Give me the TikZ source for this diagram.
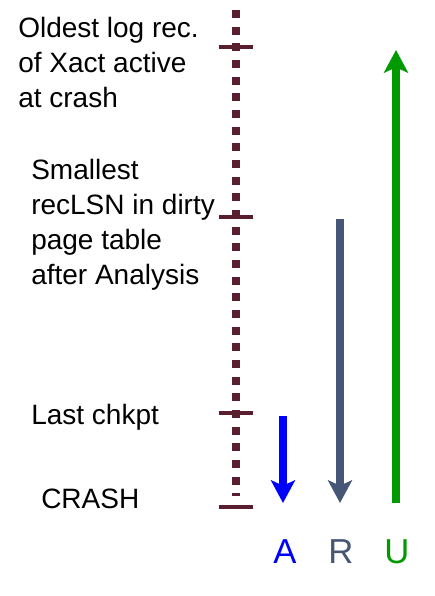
\documentclass[tikz,border=0pt]{standalone}
\usepackage{fontspec}
\setmainfont{Liberation Sans}
\usetikzlibrary{arrows.meta}
\definecolor{logline}{HTML}{5A1F2E}
\definecolor{anablue}{HTML}{0000FF}
\definecolor{redogray}{HTML}{475677}
\definecolor{undogreen}{HTML}{009900}

\begin{document}
\begin{tikzpicture}[x=0.75pt,y=-0.75pt,
    lbl/.style={anchor=base west,align=left,inner sep=0pt,font=\fontsize{21}{26.25}\selectfont},
    letter/.style={anchor=base,inner sep=0pt,font=\fontsize{26}{30}\selectfont},
    tickmark/.style={logline,line width=2.4pt},
    phase/.style={line width=6pt,-{Stealth[length=17pt,width=18pt,inset=4pt]}}]
  \useasboundingbox (0,0) rectangle (435,596);
  % the log, oldest record at the top
  \coordinate (logtop) at (236,10);
  \coordinate (logend) at (236,496);
  \draw[logline,line width=5.5pt,dash pattern=on 6pt off 6.5pt] (logtop) -- (logend);
  \foreach \y/\n in {47/oldest,217/minrec,413/chkpt,507/crash}{
    \coordinate (\n-l) at (219,\y);
    \coordinate (\n-r) at (253,\y);
    \draw[tickmark] (\n-l) -- (\n-r);
  }
  % base = last line of each label
  \node[lbl] (oldtxt) at (18,107) {Oldest log rec.\\of Xact active\\at crash};
  \node[lbl] (mintxt) at (31,284) {Smallest\\recLSN in dirty\\page table\\after Analysis};
  \node[lbl] (chktxt) at (31,424) {Last chkpt};
  \node[lbl] (crashtxt) at (41,508) {CRASH};
  % the three passes
  \coordinate (a-s) at (283,416);
  \coordinate (a-e) at (283,503);
  \coordinate (r-s) at (340,219);
  \coordinate (r-e) at (340,503);
  \coordinate (u-s) at (396,503);
  \coordinate (u-e) at (396,50);
  \draw[phase,anablue] (a-s) -- (a-e);
  \draw[phase,redogray] (r-s) -- (r-e);
  \draw[phase,undogreen] (u-s) -- (u-e);
  \node[letter,text=anablue] (alab) at (285,563) {A};
  \node[letter,text=redogray] (rlab) at (341,563) {R};
  \node[letter,text=undogreen] (ulab) at (397,563) {U};
\end{tikzpicture}
\end{document}
